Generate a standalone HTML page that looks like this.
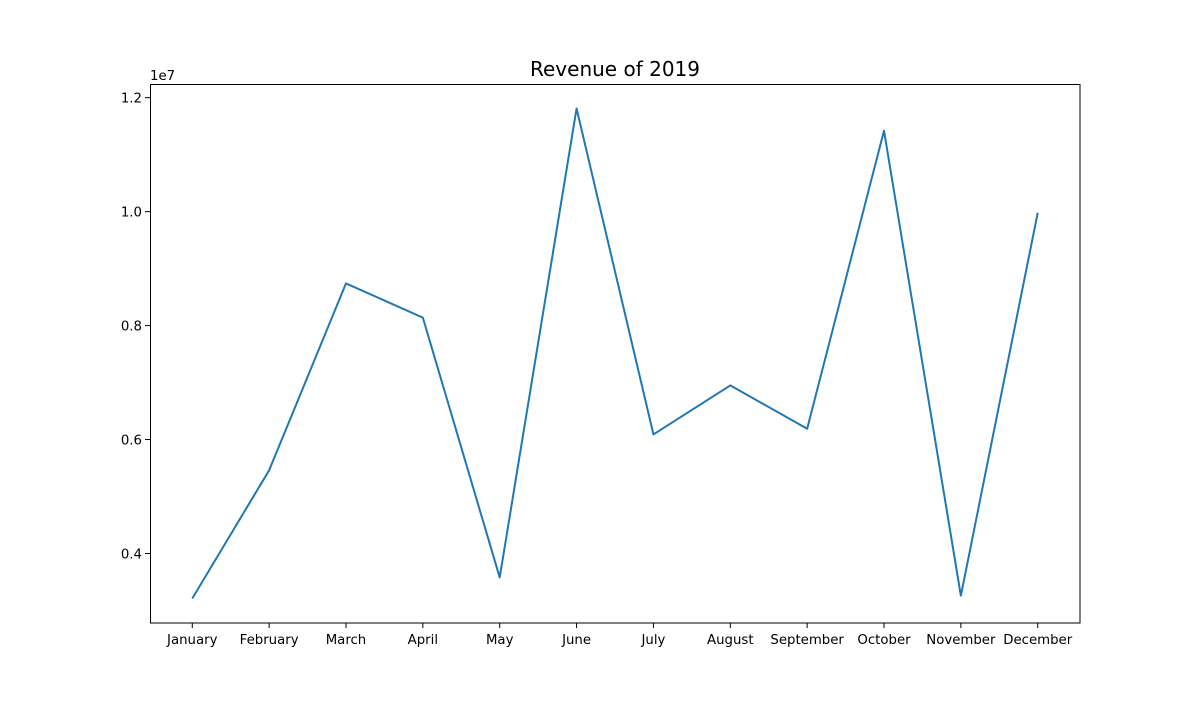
<!DOCTYPE html>
<html><head><meta charset="utf-8"><style>
body{margin:0;background:#fff;}
svg text{font-family:"DejaVu Sans","Liberation Sans",sans-serif;fill:#000;}
</style></head><body>
<svg id="chart" width="1200" height="700" xmlns="http://www.w3.org/2000/svg">
<rect width="1200" height="700" fill="#fff"/>
<text x="615" y="76" font-size="20" text-anchor="middle">Revenue of 2019</text>
<text x="150" y="80" font-size="13.3">1e7</text>
<g id="ticks"></g>
<polyline id="line" fill="none" stroke="#1f77b4" stroke-width="2" stroke-linejoin="round"/>
<rect x="150.5" y="84.5" width="929.5" height="538.5" fill="none" stroke="#000" stroke-width="1"/>
</svg>
<script>
const months=["January","February","March","April","May","June","July","August","September","October","November","December"];
const revenue=[3.21e6,5.46e6,8.74e6,8.14e6,3.58e6,11.81e6,6.09e6,6.95e6,6.19e6,11.42e6,3.26e6,9.98e6];
const yTicks=[0.4e7,0.6e7,0.8e7,1.0e7,1.2e7];
const yTickLabels=["0.4","0.6","0.8","1.0","1.2"];
const L=150,R=1080,T=84,B=623;
const n=months.length;
const xmin=-0.55,xmax=n-1+0.55;
const vmin=Math.min(...revenue),vmax=Math.max(...revenue),pad=(vmax-vmin)*0.05;
const ymin=vmin-pad,ymax=vmax+pad;
const xs=i=>L+(i-xmin)/(xmax-xmin)*(R-L);
const ys=v=>B-(v-ymin)/(ymax-ymin)*(B-T);
const NS="http://www.w3.org/2000/svg";
const g=document.getElementById('ticks');
function mk(tag,attrs,txt){const e=document.createElementNS(NS,tag);for(const k in attrs)e.setAttribute(k,attrs[k]);if(txt!==undefined)e.textContent=txt;g.appendChild(e);return e;}
months.forEach((m,i)=>{const x=xs(i);
const t=mk('line',{x1:x,x2:x,y1:B,y2:B+5,stroke:'#000'});


const l=mk('text',{x:x,y:B+21,'font-size':13.3,'text-anchor':'middle'},m);


});
yTicks.forEach((v,i)=>{const y=ys(v);
const t=mk('line',{x1:L-5,x2:L,y1:y,y2:y,stroke:'#000'});


const l=mk('text',{x:L-8,y:y+5,'font-size':13.3,'text-anchor':'end'},yTickLabels[i]);


});
document.getElementById('line').setAttribute('points',revenue.map((v,i)=>xs(i)+','+ys(v)).join(' '));
</script>
</body></html>
